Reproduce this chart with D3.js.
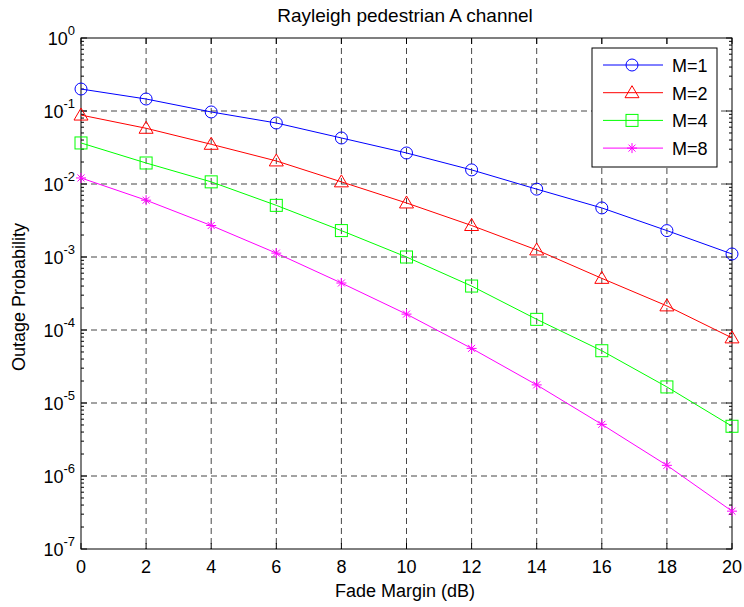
<!DOCTYPE html>
<html><head><meta charset="utf-8">
<script src="https://cdn.jsdelivr.net/npm/d3@7"></script>
<style>body{margin:0;background:#fff}svg{display:block}text{font-family:"Liberation Sans",Arial,sans-serif}</style>
</head><body>
<svg id="c" width="744" height="607"></svg>
<script>
const fadeMargin = [0,2,4,6,8,10,12,14,16,18,20];
const seriesNames = ["M=1","M=2","M=4","M=8"];
const m1 = [0.2,0.146,0.097,0.0685,0.0427,0.0266,0.0156,0.0085,0.0047,0.0023,0.0011];
const m2 = [0.088,0.058,0.035,0.0207,0.0107,0.0055,0.0027,0.00125,0.00051,0.000214,0.000078];
const m4 = [0.0365,0.0194,0.0107,0.0051,0.0023,0.001,0.0004,0.00014,0.000052,0.0000166,0.0000048];
const m8 = [0.0121,0.006,0.0027,0.00113,0.00044,0.000165,0.000056,0.0000177,0.0000051,0.0000014,0.00000033];
const xTicks = [0,2,4,6,8,10,12,14,16,18,20];
const yExps = [0,-1,-2,-3,-4,-5,-6,-7];
const colors = ["#0000ff","#ff0000","#00ff00","#ff00ff"];
const markers = ["circle","triangle","square","star"];
const allSeries = [m1,m2,m4,m8];

const svg = d3.select("#c");
const L=81, R=732, T=38, B=549;
const x = d3.scaleLinear().domain([0,20]).range([L,R]);
const y = d3.scaleLog().domain([1e-7,1]).range([B,T]);
const FS = 18;

// grid
const g = svg.append("g");
xTicks.slice(1,-1).forEach(t=>g.append("line").attr("x1",x(t)).attr("x2",x(t)).attr("y1",T).attr("y2",B)
  .attr("stroke","#000").attr("stroke-width",0.9).attr("stroke-dasharray","6,4").attr("opacity",0.8));
yExps.slice(1,-1).forEach(e=>g.append("line").attr("x1",L).attr("x2",R).attr("y1",y(Math.pow(10,e))).attr("y2",y(Math.pow(10,e)))
  .attr("stroke","#000").attr("stroke-width",0.9).attr("stroke-dasharray","6,4").attr("opacity",0.8));

// axes ticks
const ax = svg.append("g");
xTicks.forEach(t=>{
  ax.append("line").attr("x1",x(t)).attr("x2",x(t)).attr("y1",B).attr("y2",B-6).attr("stroke","#000");
  ax.append("line").attr("x1",x(t)).attr("x2",x(t)).attr("y1",T).attr("y2",T+6).attr("stroke","#000");
  ax.append("text").attr("x",x(t)).attr("y",B+24).attr("text-anchor","middle").attr("font-size",FS).text(t);
});
yExps.forEach(e=>{
  const yy=y(Math.pow(10,e));
  ax.append("line").attr("x1",L).attr("x2",L+6).attr("y1",yy).attr("y2",yy).attr("stroke","#000");
  ax.append("line").attr("x1",R).attr("x2",R-6).attr("y1",yy).attr("y2",yy).attr("stroke","#000");
  const tx=ax.append("text").attr("x",L-6).attr("y",yy+7).attr("text-anchor","end").attr("font-size",FS);
  tx.append("tspan").text("10");
  tx.append("tspan").attr("font-size",13).attr("dy",-10).text(e);
  if(e<0){
    for(let k=2;k<=9;k++){
      const ymm=y(k*Math.pow(10,e));
      ax.append("line").attr("x1",L).attr("x2",L+3).attr("y1",ymm).attr("y2",ymm).attr("stroke","#000");
      ax.append("line").attr("x1",R).attr("x2",R-3).attr("y1",ymm).attr("y2",ymm).attr("stroke","#000");
    }
  }
});
svg.append("rect").attr("x",L).attr("y",T).attr("width",R-L).attr("height",B-T).attr("fill","none").attr("stroke","#000").attr("stroke-width",1);

function drawMarker(sel,type,cx,cy,col){
  if(type==="circle") sel.append("circle").attr("cx",cx).attr("cy",cy).attr("r",6).attr("fill","none").attr("stroke",col);
  else if(type==="triangle") sel.append("path").attr("d",`M${cx},${cy-7}L${cx+7},${cy+5}L${cx-7},${cy+5}Z`).attr("fill","none").attr("stroke",col);
  else if(type==="square") sel.append("rect").attr("x",cx-6).attr("y",cy-6).attr("width",12).attr("height",12).attr("fill","none").attr("stroke",col);
  else {
    const r=5;
    sel.append("path").attr("d",`M${cx},${cy-r}V${cy+r}M${cx-r},${cy}H${cx+r}M${cx-r*0.7},${cy-r*0.7}L${cx+r*0.7},${cy+r*0.7}M${cx-r*0.7},${cy+r*0.7}L${cx+r*0.7},${cy-r*0.7}`).attr("stroke",col).attr("fill","none");
  }
}

const line = d3.line().x((d,i)=>x(fadeMargin[i])).y(d=>y(d));
allSeries.forEach((s,si)=>{
  svg.append("path").datum(s).attr("d",line).attr("fill","none").attr("stroke",colors[si]).attr("stroke-width",1);
  const mg=svg.append("g");
  s.forEach((v,i)=>drawMarker(mg,markers[si],x(fadeMargin[i]),y(v),colors[si]));
});

// legend
const lg = svg.append("g");
lg.append("rect").attr("x",592).attr("y",48).attr("width",125).attr("height",119).attr("fill","#fff").attr("stroke","#000");
seriesNames.forEach((n,i)=>{
  const yy=65+i*27.7;
  lg.append("line").attr("x1",603).attr("x2",663).attr("y1",yy).attr("y2",yy).attr("stroke",colors[i]);
  drawMarker(lg,markers[i],632,yy,colors[i]);
  lg.append("text").attr("x",672).attr("y",yy+7).attr("font-size",FS).text(n);
});

svg.append("text").attr("x",405).attr("y",22).attr("text-anchor","middle").attr("font-size",19).text("Rayleigh pedestrian A channel");
svg.append("text").attr("x",405).attr("y",597).attr("text-anchor","middle").attr("font-size",FS).text("Fade Margin (dB)");
svg.append("text").attr("transform","translate(25,297) rotate(-90)").attr("text-anchor","middle").attr("font-size",FS).text("Outage Probability");
</script>
</body></html>
